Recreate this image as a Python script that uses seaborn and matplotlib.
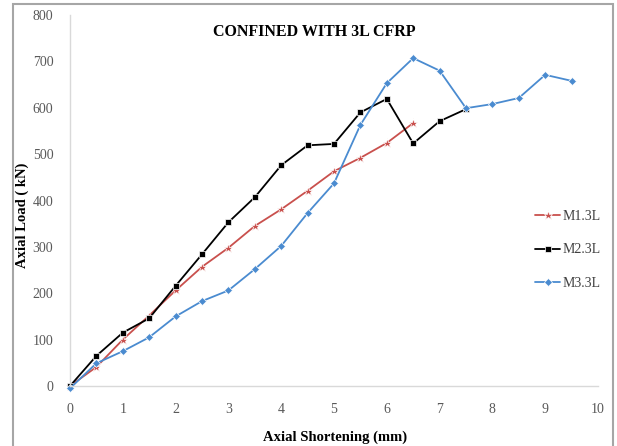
import matplotlib
matplotlib.use("Agg")
import matplotlib.pyplot as plt
import seaborn as sns
import pandas as pd
import numpy as np
from matplotlib.patches import Rectangle

# ---- data ----
x_m1 = [0, 0.5, 1, 1.5, 2, 2.5, 3, 3.5, 4, 4.5, 5, 5.5, 6, 6.5]
y_m1 = [0, 41, 100, 152, 206, 257, 298, 345, 381, 421, 463, 492, 524, 567]

x_m2 = [0, 0.5, 1, 1.5, 2, 2.5, 3, 3.5, 4, 4.5, 5, 5.5, 6, 6.5, 7, 7.5]
y_m2 = [0, 65, 115, 146, 216, 284, 353, 407, 476, 519, 522, 590, 619, 523, 571, 597]

x_m3 = [0, 0.5, 1, 1.5, 2, 2.5, 3, 3.5, 4, 4.5, 5, 5.5, 6, 6.5, 7, 7.5, 8, 8.5, 9, 9.5]
y_m3 = [-5, 49, 75, 105, 150, 183, 206, 252, 302, 373, 437, 563, 653, 707, 680, 599, 608, 621, 671, 658]

series_names = ["M1.3L", "M2.3L", "M3.3L"]
x_ticks = list(range(0, 11))
y_ticks = list(range(0, 801, 100))

title_text = "CONFINED WITH 3L CFRP"
xlabel_text = "Axial Shortening (mm)"
ylabel_text = "Axial Load ( kN)"

df = pd.concat([
    pd.DataFrame({"x": x_m1, "y": y_m1, "series": series_names[0]}),
    pd.DataFrame({"x": x_m2, "y": y_m2, "series": series_names[1]}),
    pd.DataFrame({"x": x_m3, "y": y_m3, "series": series_names[2]}),
], ignore_index=True)

sns.set_theme(style="white")
plt.rcParams["font.family"] = ["Liberation Serif", "DejaVu Serif"]

W, H = 617, 446
fig = plt.figure(figsize=(W / 100, H / 100), dpi=100)
ax = fig.add_axes([70 / W, (H - 386) / H, (598 - 70) / W, (386 - 15) / H])

palette = {"M1.3L": "#c9504d", "M2.3L": "#000000", "M3.3L": "#4a8bd0"}
markers = {"M1.3L": "*", "M2.3L": "s", "M3.3L": "D"}
msize = {"M1.3L": 6.5, "M2.3L": 4.5, "M3.3L": 3.8}

sns.lineplot(data=df, x="x", y="y", hue="series", style="series",
             markers=markers, dashes=False, palette=palette,
             linewidth=1.3, markersize=4.5, markeredgewidth=0.5,
             ax=ax, sort=False, legend=True)

for line, name in zip(ax.get_lines(), series_names):
    line.set_clip_on(False)
    line.set_markersize(msize[name])

ax.set_xlim(0, 10)
ax.set_ylim(0, 800)
ax.set_xticks(x_ticks)
ax.set_yticks(y_ticks)
ax.tick_params(axis="both", length=0, labelsize=10, labelcolor="#595959", pad=12)
ax.tick_params(axis="y", pad=12)
for s in ["top", "right"]:
    ax.spines[s].set_visible(False)
for s in ["left", "bottom"]:
    ax.spines[s].set_color("#d9d9d9")
    ax.spines[s].set_linewidth(1.0)
ax.grid(False)

ax.set_xlabel("")
ax.set_ylabel("")
fig.text(335 / W, 1 - 437 / H, xlabel_text, ha="center", va="center",
         fontsize=10.5, fontweight="bold", color="#000000")
fig.text(22 / W, 1 - 215 / H, ylabel_text, ha="center", va="center",
         rotation=90, fontsize=10.5, fontweight="bold", color="#000000")
fig.text(314 / W, 1 - 32 / H, title_text, ha="center", va="center",
         fontsize=11.5, fontweight="bold", color="#000000")

handles, labels = ax.get_legend_handles_labels()
for h, name in zip(handles, labels):
    h.set_markersize(msize[name])
leg = ax.legend(handles, labels, loc="center left",
                bbox_to_anchor=(535 / W, 1 - 250 / H), bbox_transform=fig.transFigure,
                frameon=False, fontsize=10, handlelength=1.8, handletextpad=0.15,
                labelspacing=1.45, borderpad=0, borderaxespad=0)
for t in leg.get_texts():
    t.set_color("#404040")

fig.patches.append(Rectangle((13 / W, -0.02), (613 - 13) / W, 1 - 4 / H + 0.02,
                             transform=fig.transFigure, fill=False,
                             edgecolor="#a6a6a6", linewidth=1.5))

fig.savefig("out.png", dpi=100)
